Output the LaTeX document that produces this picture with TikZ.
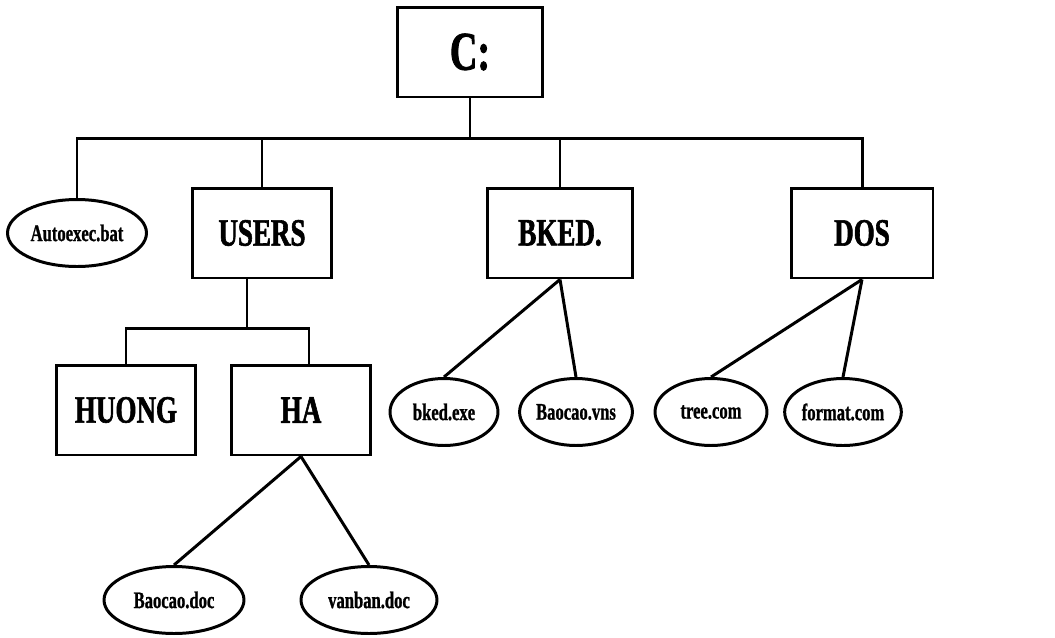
\documentclass[tikz,border=0pt]{standalone}
\usepackage{fontspec}
\usepackage{tikz}
\usetikzlibrary{shapes.geometric}
\newfontfamily\dirfont[FakeStretch=0.7,FakeBold=1.5]{Liberation Serif Bold}
\newfontfamily\filefont[FakeStretch=0.7,FakeBold=1]{Liberation Serif Bold}

\begin{document}
\begin{tikzpicture}
  [x=0.02cm,y=-0.02cm,line width=1.7pt,
   dir/.style={draw,rectangle,inner sep=0pt,minimum width=2.78cm,minimum height=1.8cm,font=\dirfont\fontsize{22}{22}\selectfont},
   root/.style={dir,minimum width=2.9cm,font=\dirfont\fontsize{31}{31}\selectfont},
   file/.style={draw,ellipse,inner sep=0pt,minimum width=2.2cm,minimum height=1.34cm,font=\filefont\fontsize{13.5}{13.5}\selectfont}]
  \useasboundingbox (0,0) rectangle (1055,637);

  \node[root] (C) at (470,52) {C:};

  \node[file,minimum width=2.78cm] (auto) at (77,233) {Autoexec.bat};
  \node[dir] (users) at (262,233) {USERS};
  \node[dir,minimum width=2.92cm] (bked) at (560,233) {BKED.};
  \node[dir,minimum width=2.84cm] (dos) at (862,233) {DOS};

  \node[dir] (huong) at (126,410) {HUONG};
  \node[dir] (ha) at (301,410) {HA};

  \node[file,minimum width=2.16cm] (bkexe) at (444,412) {bked.exe};
  \node[file,minimum width=2.16cm] (bvns) at (576,412) {Baocao.vns};
  \node[file,minimum width=2.24cm] (tree) at (711,412) {tree.com};
  \node[file] (format) at (843,412) {format.com};

  \node[file,minimum width=2.8cm] (bdoc) at (174,600) {Baocao.doc};
  \node[file,minimum width=2.72cm] (vdoc) at (369,600) {vanban.doc};

  \coordinate (bus) at (0,138);
  \coordinate (ubus) at (0,328);

  \draw (C.south) -- (C.south |- bus);
  \draw (auto.north) -- (auto.north |- bus) -- (dos.north |- bus) -- (dos.north);
  \foreach \n in {users,bked}
    \draw (\n.north) -- (\n.north |- bus);

  \draw ([xshift=-0.3cm]users.south) -- ([xshift=-0.3cm]users.south |- ubus);
  \draw (huong.north) -- (huong.north |- ubus) -- ([xshift=0.16cm]ha.north |- ubus) -- ([xshift=0.16cm]ha.north);

  \foreach \from/\to in {ha/bdoc,ha/vdoc,bked/bkexe,bked/bvns,dos/tree,dos/format}
    \draw (\from.south) -- (\to.north);

\end{tikzpicture}
\end{document}
